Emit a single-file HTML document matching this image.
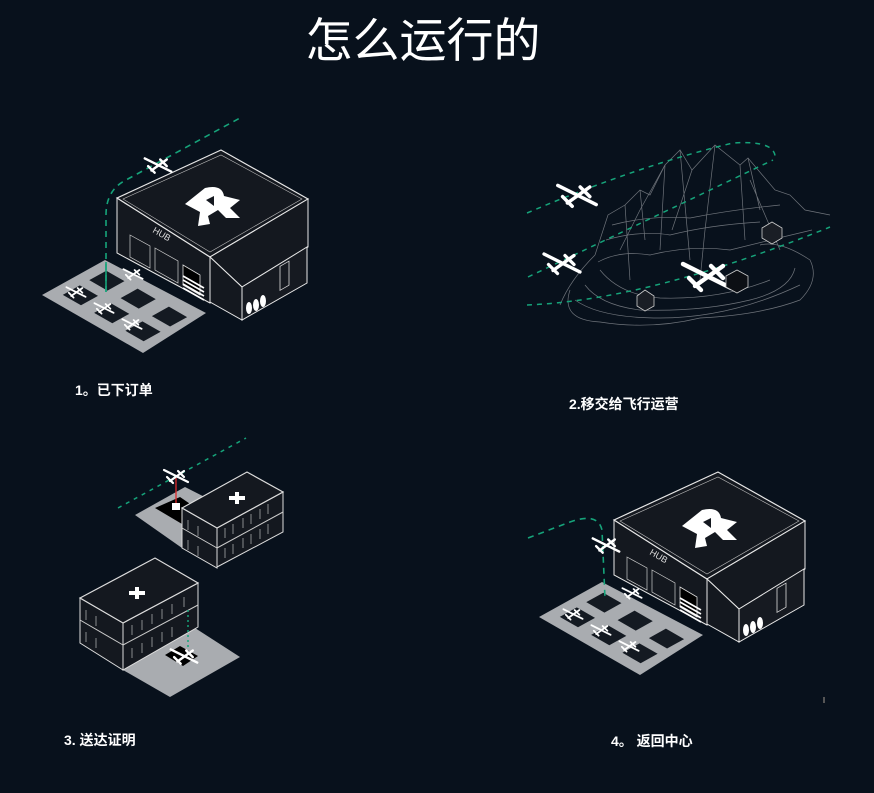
<!DOCTYPE html>
<html><head><meta charset="utf-8"><style>
html,body{margin:0;padding:0;background:#08111c;}
body{width:874px;height:793px;overflow:hidden;position:relative;font-family:"Liberation Sans","Noto Sans CJK SC",sans-serif;}
.t{position:absolute;left:-14px;width:874px;top:8px;text-align:center;color:#fff;font-size:47px;line-height:66px;}
.l{position:absolute;color:#fff;font-weight:bold;font-size:14px;line-height:18px;}
svg{position:absolute;left:0;top:0;}
</style></head><body>
<div class="t">怎么运行的</div>
<svg width="874" height="793" viewBox="0 0 874 793">
<defs>
<g id="drone" stroke="#fff" stroke-width="2.2" fill="none" stroke-linecap="round">
 <line x1="-12" y1="-6" x2="12" y2="6"/>
 <line x1="-6" y1="5" x2="8" y2="-5"/>
 <line x1="-9" y1="1" x2="-3" y2="7"/>
 <line x1="2" y1="-5" x2="8" y2="1"/>
</g>
<g id="hub">
 <polygon points="42,295 105,260 206,313 143,353" fill="#a9acb0"/>
 <g transform="matrix(63,-35,101,58,42,295)" fill="#141a22">
  <rect x="0.17" y="0.10" width="0.27" height="0.18"/>
  <rect x="0.59" y="0.10" width="0.27" height="0.18"/>
  <rect x="0.17" y="0.41" width="0.27" height="0.18"/>
  <rect x="0.59" y="0.41" width="0.27" height="0.18"/>
  <rect x="0.17" y="0.72" width="0.27" height="0.18"/>
  <rect x="0.59" y="0.72" width="0.27" height="0.18"/>
 </g>
 <use href="#drone" transform="translate(76,292) scale(0.8)"/>
 <use href="#drone" transform="translate(104,308) scale(0.8)"/>
 <use href="#drone" transform="translate(132,324) scale(0.8)"/>
 <polygon points="117,198 210,257 210,303 117,253" fill="#14181f" stroke="#e8e8e8" stroke-width="1"/>
 <polygon points="117,198 221,150 308,199 210,257" fill="#14181f" stroke="#e8e8e8" stroke-width="1.2"/>
 <polygon points="123,199 221,155 302,199 210,252" fill="none" stroke="#bbb" stroke-width="0.6"/>
 <polygon points="210,257 308,199 308,247 242,287" fill="#14181f" stroke="#e8e8e8" stroke-width="1"/>
 <polygon points="210,257 242,287 242,320 210,302" fill="#14181f" stroke="#e8e8e8" stroke-width="1"/>
 <polygon points="242,287 307,247 307,283 242,320" fill="#161a21" stroke="#e8e8e8" stroke-width="1"/>
 <rect x="280" y="268" width="9" height="24" fill="none" stroke="#ddd" stroke-width="0.8" transform="skewY(-30) translate(0,160)"/>
 <text x="152" y="232" fill="#ddd" font-size="9" font-family="Liberation Sans,sans-serif" transform="rotate(30 152 232)">HUB</text>
 <polygon points="130,235 150,246 150,268 130,257" fill="none" stroke="#ccc" stroke-width="0.7"/>
 <polygon points="155,248 178,261 178,283 155,270" fill="none" stroke="#ccc" stroke-width="0.7"/>
 <polygon points="183,265 200,275 200,295 183,285" fill="#000" stroke="#ddd" stroke-width="0.8"/>
 <g stroke="#fff" stroke-width="1.6">
  <line x1="183" y1="276" x2="204" y2="288"/><line x1="183" y1="280" x2="204" y2="292"/><line x1="183" y1="284" x2="204" y2="296"/><line x1="183" y1="288" x2="204" y2="300"/>
 </g>
 <ellipse cx="249" cy="308" rx="3" ry="6" fill="#fff"/><ellipse cx="256" cy="305" rx="3" ry="6" fill="#fff"/><ellipse cx="263" cy="301" rx="3" ry="6" fill="#fff"/>
 <path d="M185,204 L205,188 Q222,184 224,196 L240,200 L230,208 L240,218 L226,218 L218,210 L208,216 L210,224 L198,226 L200,212 Z" fill="#fff"/>
 <path d="M206,200 L214,196 L214,206 Z" fill="#14181f"/>
</g>
</defs>

<use href="#hub"/>
<path d="M106,292 L106,215 Q106,190 126,180 L240,118" fill="none" stroke="#16a37a" stroke-width="1.6" stroke-dasharray="6 5"/>
<line x1="106" y1="292" x2="106" y2="262" stroke="#16a37a" stroke-width="1.6"/>
<use href="#drone" transform="translate(158,165) scale(1.1)"/>
<use href="#drone" transform="translate(133,274) scale(0.8)"/>

<g transform="translate(497,322)"><use href="#hub"/></g>
<path d="M528,538 L570,522 Q598,512 602,530 L605,598" fill="none" stroke="#16a37a" stroke-width="1.6" stroke-dasharray="6 5"/>
<use href="#drone" transform="translate(606,545) scale(1.1)"/>
<use href="#drone" transform="translate(632,593) scale(0.8)"/>

<g fill="none" stroke="#6f747b" stroke-width="0.7">
 <path d="M595,255 L608,215 L625,205 L640,190 L650,195 L665,165 L680,150 L692,170 L715,145 L740,165 L748,158 L775,190 L790,195 L805,210 L830,215"/>
 <path d="M570,290 Q560,320 600,322 Q650,330 700,318 Q760,315 800,300 Q820,280 810,260 Q780,240 760,245"/>
 <path d="M585,285 Q600,305 640,310 Q700,312 750,300 Q790,290 795,268"/>
 <path d="M600,270 Q620,295 660,298 Q720,300 770,280"/>
 <path d="M620,250 L640,210 L665,165 M680,150 L690,260 M715,145 L705,230 L700,280 M740,165 L745,240 M665,165 L660,250 M625,205 L630,280 M750,180 L780,250 M692,170 L672,230 M748,158 L760,210 M640,190 L645,240"/>
 <path d="M598,262 Q620,250 650,255 Q690,245 730,250 Q770,240 812,230"/>
 <path d="M606,240 Q640,230 670,235 Q710,225 760,222"/>
 <path d="M612,225 Q650,215 690,218 Q730,210 780,205"/>
 <path d="M560,305 Q570,280 595,255"/>
 <path d="M575,300 Q600,318 660,318 Q730,318 800,285"/>
</g>
<g fill="none" stroke="#16a37a" stroke-width="1.5" stroke-dasharray="5 5">
 <path d="M527,213 Q640,165 733,143 Q778,140 775,160"/>
 <path d="M528,277 L773,160"/>
 <path d="M527,305 Q650,300 830,227"/>
</g>
<use href="#drone" transform="translate(577,195) scale(1.6)"/>
<use href="#drone" transform="translate(562,263) scale(1.5)"/>
<use href="#drone" transform="translate(707,276) scale(2)"/>
<g stroke="#ccc" stroke-width="0.8" fill="#1a1e25">
 <polygon points="762,228 772,222 782,228 782,238 772,244 762,238"/>
 <polygon points="637,296 645,290 654,296 654,306 645,311 637,306"/>
 <polygon points="726,276 737,270 748,276 748,287 737,293 726,287" fill="#0c0f14"/>
</g>

<line x1="118" y1="508" x2="246" y2="438" stroke="#16a37a" stroke-width="1.5" stroke-dasharray="4 5"/>
<polygon points="135,515 185,487 240,515 182,548" fill="#a9acb0"/>
<polygon points="155,508 180,497 202,512 182,524" fill="#000"/>
<line x1="176" y1="478" x2="176" y2="505" stroke="#e0282b" stroke-width="1.3"/>
<rect x="172" y="503" width="8" height="7" fill="#fff"/>
<use href="#drone" transform="translate(176,476) scale(1)"/>
<polygon points="182,508 217,528 217,568 182,548" fill="#14181f" stroke="#ddd" stroke-width="1"/>
<polygon points="217,528 283,492 283,532 217,567" fill="#14181f" stroke="#ddd" stroke-width="1"/>
<polygon points="182,508 247,472 283,492 217,528" fill="#14181f" stroke="#ddd" stroke-width="1.2"/>
<line x1="182" y1="528" x2="217" y2="548" stroke="#ccc" stroke-width="1"/><line x1="217" y1="548" x2="283" y2="512" stroke="#ccc" stroke-width="1"/>
<path d="M229,496 h6 v-4 h4 v4 h6 v4 h-6 v4 h-4 v-4 h-6 z" fill="#fff"/>
<g stroke="#bbb" stroke-width="0.7" fill="none">
 <path d="M225,528 v10 M233,524 v10 M243,518 v10 M251,514 v10 M260,509 v10 M268,504 v10 M225,548 v10 M233,544 v10 M243,538 v10 M251,534 v10 M260,529 v10 M268,524 v10 M188,520 v10 M198,526 v10 M188,540 v10 M198,546 v10"/>
</g>
<polygon points="123,670 195,628 240,657 170,697" fill="#a9acb0"/>
<polygon points="165,655 180,646 198,656 183,666" fill="#000"/>
<polygon points="80,598 123,623 123,670 80,643" fill="#14181f" stroke="#ddd" stroke-width="1"/>
<polygon points="123,623 198,583 198,627 123,670" fill="#14181f" stroke="#ddd" stroke-width="1"/>
<polygon points="80,598 155,558 198,583 123,623" fill="#14181f" stroke="#ddd" stroke-width="1.2"/>
<line x1="80" y1="620" x2="123" y2="645" stroke="#ccc"/><line x1="123" y1="645" x2="198" y2="605" stroke="#ccc"/>
<path d="M129,591 h6 v-4 h4 v4 h6 v4 h-6 v4 h-4 v-4 h-6 z" fill="#fff"/>
<g stroke="#bbb" stroke-width="0.7" fill="none">
 <path d="M132,625 v10 M142,620 v10 M152,614 v10 M162,609 v10 M172,604 v10 M184,597 v10 M132,648 v10 M142,643 v10 M152,637 v10 M162,632 v10 M172,627 v10 M86,610 v10 M96,616 v10 M86,632 v10 M96,638 v10"/>
</g>
<line x1="188" y1="610" x2="188" y2="648" stroke="#16a37a" stroke-width="1.5" stroke-dasharray="2 3"/>
<use href="#drone" transform="translate(184,656) scale(1.1)"/>
<rect x="823" y="697" width="2" height="6" fill="#555"/>
</svg>
<div class="l" style="left:75px;top:381px;">1。已下订单</div>
<div class="l" style="left:569px;top:395px;">2.移交给飞行运营</div>
<div class="l" style="left:64px;top:731px;">3. 送达证明</div>
<div class="l" style="left:611px;top:732px;">4。 返回中心</div>
</body></html>
